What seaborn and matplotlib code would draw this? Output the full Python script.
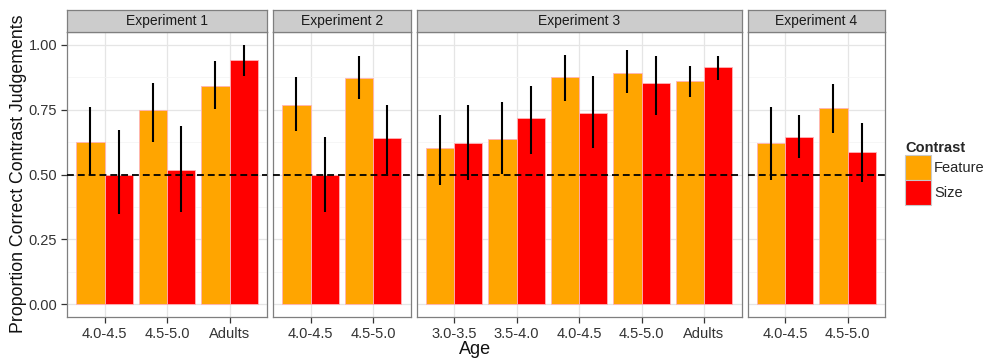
import numpy as np
import pandas as pd
import seaborn as sns
import matplotlib.pyplot as plt
from matplotlib.patches import Patch


experiments = ["Experiment 1", "Experiment 2", "Experiment 3", "Experiment 4"]
ages = [
    ["4.0-4.5", "4.5-5.0", "Adults"],
    ["4.0-4.5", "4.5-5.0"],
    ["3.0-3.5", "3.5-4.0", "4.0-4.5", "4.5-5.0", "Adults"],
    ["4.0-4.5", "4.5-5.0"],
]
contrasts = ["Feature", "Size"]

# proportion correct per age group
feature_mean = [[0.627, 0.748, 0.841], [0.768, 0.872],
                [0.601, 0.637, 0.878, 0.893, 0.862], [0.622, 0.758]]
size_mean = [[0.498, 0.516, 0.943], [0.498, 0.642],
             [0.622, 0.718, 0.737, 0.852, 0.914], [0.643, 0.587]]
# confidence intervals
feature_lo = [[0.500, 0.624, 0.752], [0.667, 0.790],
              [0.459, 0.501, 0.783, 0.814, 0.798], [0.479, 0.660]]
feature_hi = [[0.760, 0.854, 0.938], [0.877, 0.958],
              [0.729, 0.781, 0.963, 0.981, 0.919], [0.760, 0.850]]
size_lo = [[0.348, 0.355, 0.882], [0.354, 0.501],
           [0.479, 0.579, 0.602, 0.729, 0.864], [0.564, 0.472]]
size_hi = [[0.673, 0.688, 1.000], [0.646, 0.769],
           [0.770, 0.840, 0.881, 0.959, 0.958], [0.731, 0.700]]

colors = {"Feature": "#FFA500", "Size": "#FF0000"}

rows = []
for i, exp in enumerate(experiments):
    for j, age in enumerate(ages[i]):
        rows.append((exp, age, "Feature", feature_mean[i][j], feature_lo[i][j], feature_hi[i][j]))
        rows.append((exp, age, "Size", size_mean[i][j], size_lo[i][j], size_hi[i][j]))
df = pd.DataFrame(rows, columns=["experiment", "age", "contrast", "prop", "lo", "hi"])

sns.set_style("white")
plt.rcParams['font.family'] = ['Liberation Sans', 'DejaVu Sans']

W, H = 984, 358
fig = plt.figure(figsize=(W / 100, H / 100), dpi=100)

unit = 62.5
left = 67
gap = 6
top, bottom, strip_top = 32, 317, 10
text_col = "#333333"

x0 = left
for i, exp in enumerate(experiments):
    n = len(ages[i])
    w = (n + 0.2) * unit
    ax = fig.add_axes([x0 / W, 1 - bottom / H, w / W, (bottom - top) / H])
    sub = df[df.experiment == exp]
    sns.barplot(data=sub, x="age", y="prop", hue="contrast", order=ages[i],
                hue_order=contrasts, palette=colors, saturation=1, width=0.9,
                errorbar=None, edgecolor="#FFB3B8", linewidth=0.6, ax=ax,
                legend=False, zorder=2)

    # error bars at the bar centres
    for cont, container in zip(contrasts, ax.containers):
        s = sub[sub.contrast == cont].set_index("age").loc[ages[i]]
        xs = [b.get_x() + b.get_width() / 2 for b in container]
        ax.vlines(xs, s["lo"], s["hi"], color="black", lw=1.5, zorder=4)

    ax.axhline(0.5, color="black", ls=(0, (3.8, 2.2)), lw=1.3, zorder=5)

    ax.set_xlim(-0.6, n - 1 + 0.6)
    ax.set_ylim(-0.05, 1.05)
    ax.set_yticks([0, 0.25, 0.5, 0.75, 1.0])
    ax.set_yticks([0.125, 0.375, 0.625, 0.875], minor=True)
    ax.grid(True, which="major", color="#E5E5E5", lw=0.9, zorder=0)
    ax.grid(True, which="minor", axis="y", color="#F5F5F5", lw=0.6, zorder=0)
    ax.set_axisbelow(True)
    for sp in ax.spines.values():
        sp.set_color("#7F7F7F")
        sp.set_linewidth(0.9)
    ax.tick_params(axis="both", which="major", direction="out", length=4,
                   width=0.9, color="#333333", labelsize=10.5, labelcolor=text_col,
                   bottom=True, left=(i == 0), pad=3)
    ax.tick_params(which="minor", length=0)
    if i == 0:
        ax.set_yticklabels(["0.00", "0.25", "0.50", "0.75", "1.00"])
    else:
        ax.set_yticklabels([])
    ax.set_xlabel(None)
    ax.set_ylabel(None)

    # strip
    sax = fig.add_axes([x0 / W, 1 - top / H, w / W, (top - strip_top) / H])
    sax.set_facecolor("#CCCCCC")
    sax.set_xticks([])
    sax.set_yticks([])
    for sp in sax.spines.values():
        sp.set_color("#7F7F7F")
        sp.set_linewidth(0.9)
    sax.text(0.5, 0.48, exp, ha="center", va="center", fontsize=10, color="#1a1a1a",
             transform=sax.transAxes)

    x0 += w + gap

fig.text(19 / W, 1 - 174 / H, "Proportion Correct Contrast Judgements", rotation=90,
         ha="center", va="center", fontsize=12.8, color="#111111")
fig.text(475 / W, 1 - 349 / H, "Age", ha="center", va="center", fontsize=13,
         color="#111111")

handles = [Patch(facecolor=colors[c], edgecolor="#C8C8C8", lw=0.8) for c in contrasts]
leg = fig.legend(handles, contrasts, title="Contrast", loc="upper left",
                 bbox_to_anchor=(905 / W, 1 - 141 / H), frameon=False,
                 borderaxespad=0, borderpad=0, fontsize=10.5, handlelength=1.78,
                 handleheight=2.26, labelspacing=0.0, handletextpad=0.2)
leg.get_title().set_fontweight("bold")
leg.get_title().set_fontsize(10.5)
leg._legend_box.align = "left"

fig.savefig("out.png", dpi=100)
